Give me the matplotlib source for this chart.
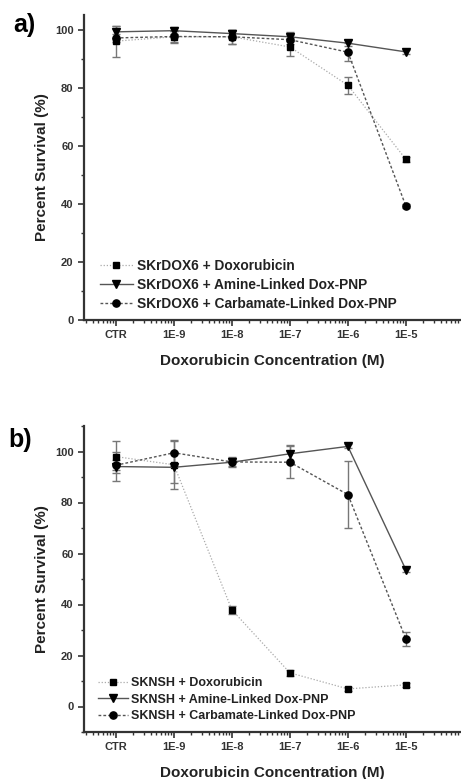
import matplotlib
matplotlib.use("Agg")
import matplotlib.pyplot as plt
import matplotlib.ticker as mticker
import numpy as np

plt.rcParams['font.family'] = ['Liberation Sans', 'DejaVu Sans']
plt.rcParams['font.weight'] = 'bold'

# concentrations (CTR plotted at 1E-10 position)
conc = [1e-10, 1e-9, 1e-8, 1e-7, 1e-6, 1e-5]
tick_labels = ['CTR', '1E-9', '1E-8', '1E-7', '1E-6', '1E-5']

# panel a: SKrDOX6
a_dox = [96.0, 97.5, 97.5, 94.0, 80.8, 55.3]
a_dox_err = [5.3, 2.0, 2.5, 3.0, 3.0, 0.8]
a_amine = [99.2, 99.6, 98.6, 97.5, 95.3, 92.3]
a_amine_err = [2.0, 1.2, 1.2, 1.5, 1.0, 0.6]
a_carb = [97.1, 97.6, 97.5, 96.5, 92.2, 39.2]
a_carb_err = [1.5, 2.0, 2.5, 1.5, 3.0, 0.6]

# panel b: SKNSH
b_dox = [98.0, 94.8, 37.9, 13.2, 6.9, 8.5]
b_dox_err = [6.3, 9.5, 1.5, 1.2, 0.8, 0.8]
b_amine = [94.1, 93.8, 95.8, 99.1, 102.0, 53.6]
b_amine_err = [5.8, 6.0, 1.5, 3.5, 0.8, 0.8]
b_carb = [94.6, 99.5, 95.9, 95.8, 83.1, 26.5]
b_carb_err = [2.0, 5.2, 2.0, 6.2, 13.2, 2.8]

labels_a = ['SKrDOX6 + Doxorubicin', 'SKrDOX6 + Amine-Linked Dox-PNP',
            'SKrDOX6 + Carbamate-Linked Dox-PNP']
labels_b = ['SKNSH + Doxorubicin', 'SKNSH + Amine-Linked Dox-PNP',
            'SKNSH + Carbamate-Linked Dox-PNP']

fig = plt.figure(figsize=(4.61, 7.79), dpi=100)
ax1 = fig.add_axes([84/461, 1-320/779, 1-84/461, 305/779])
ax2 = fig.add_axes([84/461, 1-732/779, 1-84/461, 306/779])

styles = [
    dict(marker='s', ls=(0, (1, 1.5)), color='#aaaaaa', lw=0.9, ms=4.6),
    dict(marker='v', ls='-', color='#555555', lw=1.0, ms=5.6),
    dict(marker='o', ls=(0, (2, 1.5)), color='#555555', lw=1.0, ms=5.2),
]

def draw(ax, series, errs, labels, ylim, yticks, legend_anchor, legfs):
    handles = []
    for y, e, st, lab in zip(series, errs, styles, labels):
        ax.errorbar(conc, y, yerr=e, fmt='none', ecolor='#777777', elinewidth=1.0,
                    capsize=3, capthick=1.0, zorder=2)
        h, = ax.plot(conc, y, marker=st['marker'], ls=st['ls'], color=st['color'],
                     lw=st['lw'], ms=st['ms'], mfc='black', mec='black', label=lab, zorder=3)
        handles.append(h)
    ax.set_xscale('log')
    ax.set_xlim(10**-10.55, 10**-4.05)
    ax.set_ylim(*ylim)
    ax.set_xticks(conc)
    ax.set_xticklabels(tick_labels)
    ax.xaxis.set_minor_locator(mticker.LogLocator(base=10, subs=np.arange(2, 10), numticks=20))
    ax.xaxis.set_minor_formatter(mticker.NullFormatter())
    ax.set_yticks(yticks)
    ax.yaxis.set_minor_locator(mticker.MultipleLocator(10))
    for s in ['top', 'right']:
        ax.spines[s].set_visible(False)
    for s in ['left', 'bottom']:
        ax.spines[s].set_linewidth(1.6)
        ax.spines[s].set_color('#333333')
    ax.tick_params(axis='both', which='major', direction='out', length=4, width=1.2,
                   labelsize=8, colors='#333333', labelcolor='#333333')
    ax.tick_params(axis='both', which='minor', direction='out', length=2.5, width=1.0,
                   colors='#333333')
    ax.tick_params(axis='x', pad=3)
    ax.set_xlabel('Doxorubicin Concentration (M)', fontsize=11, fontweight='bold',
                  labelpad=10, color='#222222')
    ax.set_ylabel('Percent Survival (%)', fontsize=11, fontweight='bold',
                  labelpad=4, color='#222222')
    leg = ax.legend(handles=handles, loc='lower left', bbox_to_anchor=legend_anchor,
                    frameon=False, fontsize=legfs, handlelength=2.4, handletextpad=0.3,
                    labelspacing=0.36, borderaxespad=0)
    for t in leg.get_texts():
        t.set_fontweight('bold')
        t.set_color('#222222')

draw(ax1, [a_dox, a_amine, a_carb], [a_dox_err, a_amine_err, a_carb_err], labels_a,
     (0, 105), [0, 20, 40, 60, 80, 100], (0.027, 0.013), 9.9)
draw(ax2, [b_dox, b_amine, b_carb], [b_dox_err, b_amine_err, b_carb_err], labels_b,
     (-10, 110), [0, 20, 40, 60, 80, 100], (0.023, 0.016), 9)

fig.text(13/461, 1-25/779, 'a)', fontsize=18, fontweight='bold', va='center', ha='left')
fig.text(8/461, 1-440/779, 'b)', fontsize=18, fontweight='bold', va='center', ha='left')

fig.savefig('out.png', dpi=100)
